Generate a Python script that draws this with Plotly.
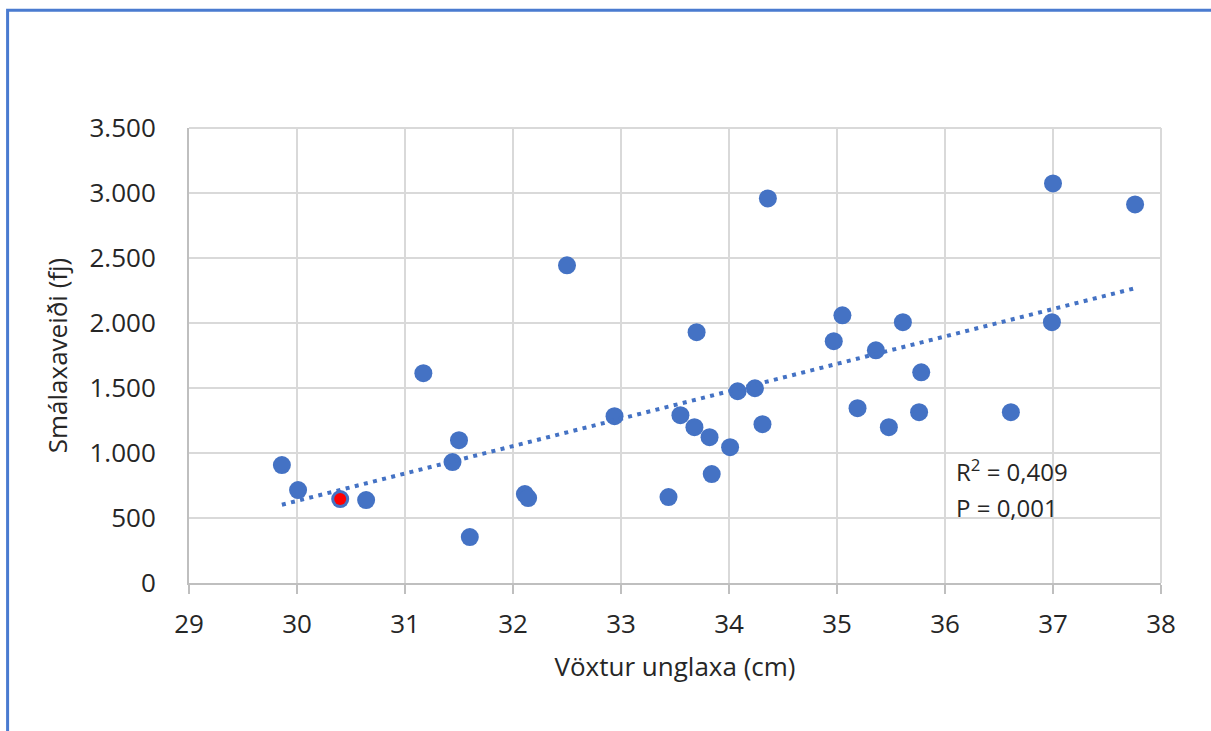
import numpy as np
import plotly.graph_objects as go

# Data
voxtur = [29.86, 30.01, 30.40, 30.64, 31.17, 31.44, 31.50, 31.60, 32.11, 32.14,
          32.50, 32.94, 33.44, 33.55, 33.68, 33.70, 33.82, 33.84, 34.01, 34.08,
          34.24, 34.31, 34.36, 34.97, 35.05, 35.19, 35.36, 35.48, 35.61, 35.76,
          35.78, 36.61, 36.99, 37.00, 37.76]
veidi = [907, 715, 646, 638, 1614, 930, 1099, 353, 684, 653,
         2444, 1283, 661, 1291, 1199, 1929, 1122, 838, 1045, 1475,
         1498, 1222, 2958, 1860, 2059, 1345, 1790, 1199, 2006, 1314,
         1621, 1314, 2006, 3074, 2912]
highlight_x = [30.40]
highlight_y = [646]

x_ticks = [29, 30, 31, 32, 33, 34, 35, 36, 37, 38]
y_ticks = [0, 500, 1000, 1500, 2000, 2500, 3000, 3500]

r2_text = "R<sup>2</sup> = 0,409"
p_text = "P = 0,001"

blue = "#4472C4"
font_family = "Open Sans, Noto Sans, sans-serif"

coef = np.polyfit(voxtur, veidi, 1)
tx = np.array([min(voxtur), max(voxtur)])
ty = np.polyval(coef, tx)

fig = go.Figure()
fig.add_trace(go.Scatter(x=voxtur, y=veidi, mode="markers",
                         marker=dict(color=blue, size=18, line=dict(width=0)),
                         showlegend=False, hoverinfo="x+y"))
fig.add_trace(go.Scatter(x=tx, y=ty, mode="lines",
                         line=dict(color=blue, width=4, dash="4px,5.4px"),
                         showlegend=False, hoverinfo="skip"))
fig.add_trace(go.Scatter(x=highlight_x, y=highlight_y, mode="markers",
                         marker=dict(color="#FF0000", size=12, line=dict(width=0)),
                         showlegend=False))

# plot area in px: x 188.5..1161, y 127.5..583
L, R, T, B = 188.5, 1161.0, 127.5, 583.0
W, H = R - L, B - T
def px2paper_x(px):
    return (px - L) / W
def px2paper_y(py):
    return (B - py) / H

fig.add_shape(type="rect", xref="paper", yref="paper",
              x0=px2paper_x(7), x1=px2paper_x(1240),
              y0=px2paper_y(760), y1=px2paper_y(9.5),
              line=dict(color="#4A7BD0", width=3), fillcolor="rgba(0,0,0,0)",
              layer="below")

fig.add_annotation(x=36.08, y=868, xref="x", yref="y", text=r2_text,
                   showarrow=False, xanchor="left", yanchor="middle",
                   font=dict(family=font_family, size=24, color="#262626"))
fig.add_annotation(x=36.08, y=584, xref="x", yref="y", text=p_text,
                   showarrow=False, xanchor="left", yanchor="middle",
                   font=dict(family=font_family, size=24, color="#262626"))

fig.update_layout(
    width=1211, height=731,
    margin=dict(l=L, r=1211 - R, t=T, b=731 - B, pad=0),
    paper_bgcolor="white", plot_bgcolor="white",
    separators=",.",
    font=dict(family=font_family, size=26, color="#262626"),
    xaxis=dict(range=[29, 38], tickvals=x_ticks, showgrid=True,
               gridcolor="#D9D9D9", gridwidth=2,
               showline=True, linecolor="#BFBFBF", linewidth=2,
               ticks="outside", ticklen=9, tickwidth=2, tickcolor="#BFBFBF",
               zeroline=False, ticklabelstandoff=8,
               title=dict(text="Vöxtur unglaxa (cm)", standoff=18,
                          font=dict(size=26))),
    yaxis=dict(range=[0, 3500], tickvals=y_ticks, tickformat=",d",
               showgrid=True, gridcolor="#D9D9D9", gridwidth=2,
               showline=True, linecolor="#BFBFBF", linewidth=2,
               ticks="", zeroline=False, ticklabelstandoff=26,
               title=dict(text="Smálaxaveiði (fj)", standoff=14,
                          font=dict(size=26))),
)
# top/right border of plot area as light gridlines
fig.add_shape(type="line", xref="paper", yref="paper", x0=0, x1=1, y0=1, y1=1,
              line=dict(color="#D9D9D9", width=2), layer="below")
fig.add_shape(type="line", xref="paper", yref="paper", x0=1, x1=1, y0=0, y1=1,
              line=dict(color="#D9D9D9", width=2), layer="below")

fig.write_html("out.html", config={"displayModeBar": False},
               post_script="document.body.style.margin='0';document.body.style.overflow='hidden';")
